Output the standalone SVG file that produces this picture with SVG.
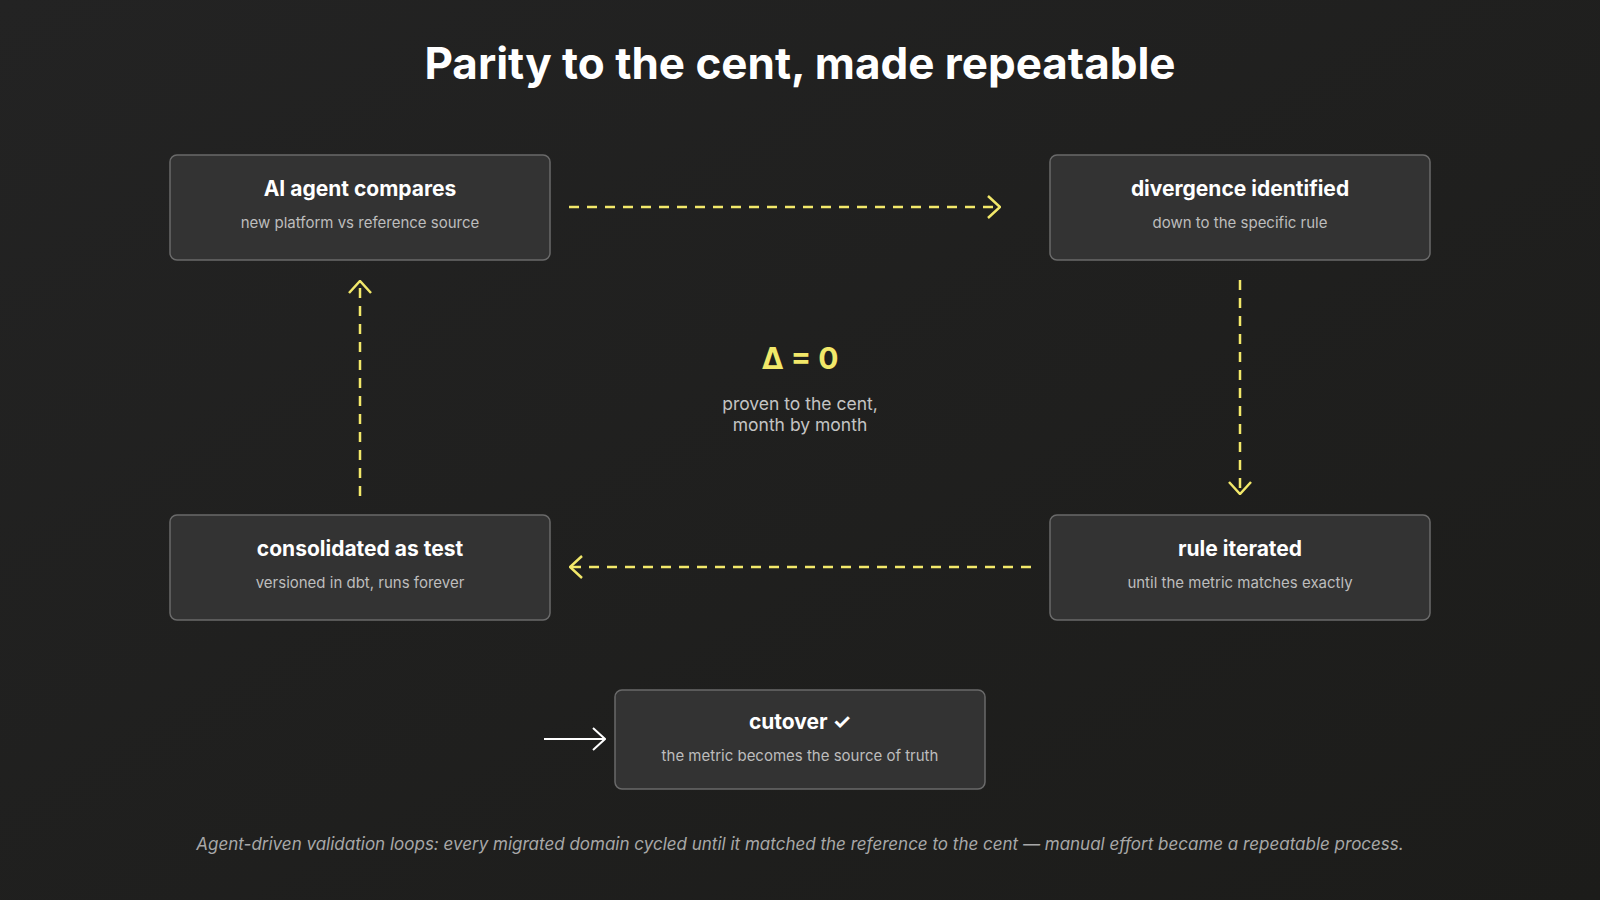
<svg xmlns="http://www.w3.org/2000/svg" width="1600" height="900" viewBox="0 0 1600 900">
<defs>
<linearGradient id="bg" x1="0" y1="0" x2="1" y2="1">
<stop offset="0" stop-color="#232323"/><stop offset="1" stop-color="#1c1c1a"/>
</linearGradient>
<marker id="ya" viewBox="0 0 14 24" refX="13" refY="12" markerWidth="14" markerHeight="24" markerUnits="userSpaceOnUse" orient="auto">
<polyline points="1,1 13,12 1,23" fill="none" stroke="#f2e86a" stroke-width="2.5"/>
</marker>
<marker id="wa" viewBox="0 0 14 24" refX="13" refY="12" markerWidth="14" markerHeight="24" markerUnits="userSpaceOnUse" orient="auto">
<polyline points="1,1 13,12 1,23" fill="none" stroke="#ffffff" stroke-width="2"/>
</marker>
</defs>
<style>
.box{fill:#333333;stroke:#6a6a6a;stroke-width:1.5}
.t{font-family:Inter,"Noto Sans",sans-serif;font-weight:700;font-size:21px;fill:#ffffff;text-anchor:middle}
.s{font-family:Inter,"Noto Sans",sans-serif;font-size:15px;fill:#bdbdbd;text-anchor:middle}
.c{font-family:Inter,"Noto Sans",sans-serif;font-size:17.5px;fill:#c4c4c4;text-anchor:middle}
.y{fill:none;stroke:#f2e86a;stroke-width:2.5;stroke-dasharray:10 8}
</style>
<rect width="1600" height="900" fill="url(#bg)"/>
<text x="800" y="79" font-family="Inter,'Noto Sans',sans-serif" font-weight="700" font-size="44" fill="#ffffff" text-anchor="middle">Parity to the cent, made repeatable</text>
<g id="connectors">
<line class="y" x1="569" y1="207" x2="1000" y2="207" marker-end="url(#ya)"/>
<line class="y" x1="1240" y1="280" x2="1240" y2="494" marker-end="url(#ya)"/>
<line class="y" x1="1031" y1="567" x2="570" y2="567" marker-end="url(#ya)"/>
<line class="y" x1="360" y1="496" x2="360" y2="281" marker-end="url(#ya)"/>
<line x1="544" y1="739" x2="605" y2="739" stroke="#ffffff" stroke-width="2" marker-end="url(#wa)"/>
</g>
<g id="n1"><rect class="box" x="170" y="155" width="380" height="105" rx="7"/>
<text class="t" x="360" y="196">AI agent compares</text><text class="s" x="360" y="228">new platform vs reference source</text></g>
<g id="n2"><rect class="box" x="1050" y="155" width="380" height="105" rx="7"/>
<text class="t" x="1240" y="196">divergence identified</text><text class="s" x="1240" y="228">down to the specific rule</text></g>
<g id="n3"><rect class="box" x="1050" y="515" width="380" height="105" rx="7"/>
<text class="t" x="1240" y="556">rule iterated</text><text class="s" x="1240" y="588">until the metric matches exactly</text></g>
<g id="n4"><rect class="box" x="170" y="515" width="380" height="105" rx="7"/>
<text class="t" x="360" y="556">consolidated as test</text><text class="s" x="360" y="588">versioned in dbt, runs forever</text></g>
<g id="n5"><rect class="box" x="615" y="690" width="370" height="99" rx="7"/>
<text class="t" x="800" y="729">cutover ✓</text><text class="s" x="800" y="761">the metric becomes the source of truth</text></g>
<g id="center">
<text x="800" y="369" font-family="Inter,'Noto Sans',sans-serif" font-weight="700" font-size="30" fill="#f2e86a" text-anchor="middle">Δ = 0</text>
<text class="c" x="800" y="410">proven to the cent,</text>
<text class="c" x="800" y="431">month by month</text>
</g>
<text x="800" y="850" font-family="Inter,'Noto Sans',sans-serif" font-style="italic" font-size="17" fill="#a8a8a8" text-anchor="middle">Agent-driven validation loops: every migrated domain cycled until it matched the reference to the cent — manual effort became a repeatable process.</text>
</svg>
